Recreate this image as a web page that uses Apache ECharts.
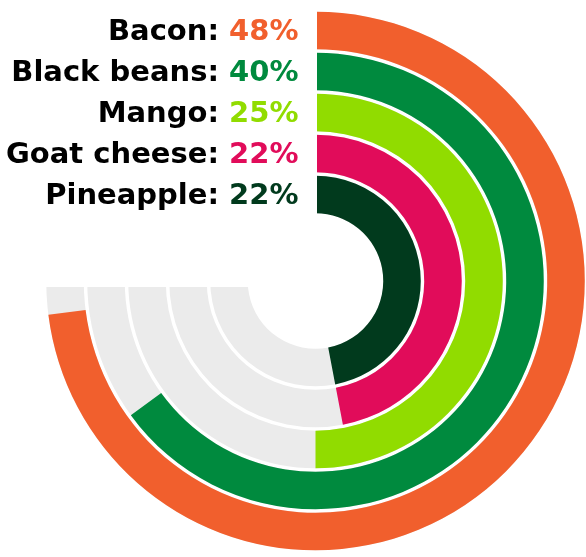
<!DOCTYPE html>
<html>
<head>
<meta charset="utf-8">
<script src="https://cdn.jsdelivr.net/npm/echarts@6/dist/echarts.min.js"></script>
<style>
  html, body { margin: 0; padding: 0; background: #ffffff; }
  #chart { width: 586px; height: 557px; }
</style>
</head>
<body>
<div id="chart"></div>
<script>
// Share of votes per topping
const foods = ['Bacon', 'Black beans', 'Mango', 'Goat cheese', 'Pineapple'];
const shares = [48, 40, 25, 22, 22];

// Angle scale: the sweep begins at 12 o'clock (scaleMin) and the track ends at 9 o'clock (scaleMax)
const scaleMin = -25;
const scaleMax = 50;

const palette = ['#f15f2d', '#008a3e', '#91dc00', '#e10c5a', '#013a1d'];
const TRACK_COLOR = '#ebebeb';
const BAR_RATIO = 0.915;       // ring thickness as a share of the band
const TRACK_END_GAP = 6;       // white gap under the track's end edge
const RING_START_GAP = 1.5;    // white gap right of the 12 o'clock line
const LABEL_OFFSET = 17;       // label right edge, left of the axis start
const LABEL_FONT = 'DejaVu Sans';
const LABEL_SIZE = 29;

const chart = echarts.init(document.getElementById('chart'), null, { renderer: 'canvas' });

function ringGeometry(params, api, cat, toVal) {
  const cs = params.coordSys;
  const a0 = api.coord([cat, scaleMin]);
  const a1 = api.coord([cat, toVal]);
  const band = api.size([1, 0], [cat, 0])[0];
  const half = band * BAR_RATIO / 2;
  const r = a0[2];
  const start = -a0[3];
  let end = -a1[3];
  while (end < start) end += Math.PI * 2;
  return { cx: cs.cx, cy: cs.cy, r: r, half: half, start: start, end: end };
}

function renderTrack(params, api) {
  const cat = api.value(0);
  const g = ringGeometry(params, api, cat, api.value(1));
  return {
    type: 'group',
    children: [
      {
        type: 'sector',
        shape: { cx: g.cx, cy: g.cy, r0: g.r - g.half, r: g.r + g.half, startAngle: g.start, endAngle: g.end, clockwise: true },
        style: { fill: TRACK_COLOR }
      },
      {
        type: 'rect',
        shape: { x: g.cx - g.r - g.half - 2, y: g.cy - 1, width: g.half * 2 + 4, height: TRACK_END_GAP + 1 },
        style: { fill: '#ffffff' }
      }
    ]
  };
}

function renderRing(params, api) {
  const cat = api.value(0);
  const val = api.value(1);
  const g = ringGeometry(params, api, cat, val);
  return {
    type: 'group',
    children: [
      {
        type: 'sector',
        shape: { cx: g.cx, cy: g.cy, r0: g.r - g.half, r: g.r + g.half, startAngle: g.start, endAngle: g.end, clockwise: true },
        style: { fill: palette[cat] }
      },
      {
        type: 'rect',
        shape: { x: g.cx - 1, y: g.cy - g.r - g.half - 1, width: RING_START_GAP + 1, height: g.half * 2 + 2 },
        style: { fill: '#ffffff' }
      },
      {
        type: 'text',
        style: {
          x: g.cx - LABEL_OFFSET,
          y: g.cy - g.r + 2,
          align: 'right',
          verticalAlign: 'middle',
          text: '{n|' + foods[cat] + ': }{v|' + val + '%}',
          rich: {
            n: { fill: '#000000', fontFamily: LABEL_FONT, fontWeight: 'bold', fontSize: LABEL_SIZE },
            v: { fill: palette[cat], fontFamily: LABEL_FONT, fontWeight: 'bold', fontSize: LABEL_SIZE }
          }
        }
      }
    ]
  };
}

chart.setOption({
  animation: false,
  polar: {
    center: [315.5, 281],
    radius: [66, 271]
  },
  angleAxis: {
    type: 'value',
    min: scaleMin,
    max: scaleMax,
    startAngle: 90,
    endAngle: -180,
    clockwise: true,
    axisLine: { show: false },
    axisTick: { show: false },
    axisLabel: { show: false },
    splitLine: { show: false }
  },
  radiusAxis: {
    type: 'category',
    data: foods,
    inverse: true,
    axisLine: { show: false },
    axisTick: { show: false },
    axisLabel: { show: false },
    splitLine: { show: false }
  },
  series: [
    {
      type: 'custom',
      coordinateSystem: 'polar',
      renderItem: renderTrack,
      data: foods.map((f, i) => [i, scaleMax]),
      silent: true,
      z: 1
    },
    {
      type: 'custom',
      coordinateSystem: 'polar',
      renderItem: renderRing,
      data: shares.map((v, i) => [i, v]),
      z: 2
    }
  ]
});
</script>
</body>
</html>
